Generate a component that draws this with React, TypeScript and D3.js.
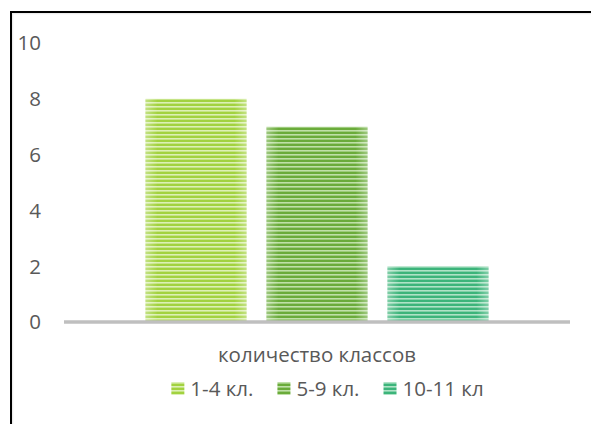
import { useRef, useEffect } from "react";
import * as d3 from "d3";

const category = "количество классов";
const seriesNames = ["1-4 кл.", "5-9 кл.", "10-11 кл"];
const seriesValues = [8, 7, 2];
const yTicks = [0, 2, 4, 6, 8, 10];

const barColors = ["#a2d23f", "#6aab3a", "#3cb47a"];
const stripeColors = ["#dcf0b5", "#bfe0a8", "#afe3c6"];

function App() {
  const ref = useRef<SVGSVGElement>(null);

  useEffect(() => {
    const svg = d3.select(ref.current);
    svg.selectAll("*").remove();

    const width = 591;
    const height = 424;
    const font = "'Open Sans', sans-serif";
    const fs = 20.5;

    // striped fills like the excel pattern
    const defs = svg.append("defs");
    barColors.forEach((c, i) => {
      const p = defs.append("pattern")
        .attr("id", "stripe" + i)
        .attr("patternUnits", "userSpaceOnUse")
        .attr("width", 8)
        .attr("height", 4);
      p.append("rect").attr("width", 8).attr("height", 4).attr("fill", c);
      p.append("rect").attr("y", 2).attr("width", 8).attr("height", 1.6).attr("fill", stripeColors[i]);
    });
    const sheen = defs.append("linearGradient").attr("id", "sheen")
      .attr("x1", "0%").attr("x2", "100%").attr("y1", "0%").attr("y2", "0%");
    sheen.append("stop").attr("offset", "0%").attr("stop-color", "#fff").attr("stop-opacity", 0.35);
    sheen.append("stop").attr("offset", "12%").attr("stop-color", "#fff").attr("stop-opacity", 0);
    sheen.append("stop").attr("offset", "88%").attr("stop-color", "#fff").attr("stop-opacity", 0);
    sheen.append("stop").attr("offset", "100%").attr("stop-color", "#fff").attr("stop-opacity", 0.35);

    svg.append("rect").attr("width", width).attr("height", height).attr("fill", "#fff");

    // frame (only top and left edges are visible)
    svg.append("line").attr("x1", 11).attr("x2", width).attr("y1", 13.5).attr("y2", 13.5)
      .attr("stroke", "#ececec").attr("stroke-width", 1.5);
    svg.append("line").attr("x1", 12.5).attr("x2", 12.5).attr("y1", 12).attr("y2", height)
      .attr("stroke", "#ececec").attr("stroke-width", 1.5);
    svg.append("line").attr("x1", 10).attr("x2", width).attr("y1", 12).attr("y2", 12)
      .attr("stroke", "#000").attr("stroke-width", 2);
    svg.append("line").attr("x1", 11).attr("x2", 11).attr("y1", 11).attr("y2", height)
      .attr("stroke", "#000").attr("stroke-width", 2);

    const x0 = d3.scaleBand().domain([category]).range([64, 570]).paddingInner(0).paddingOuter(0.2376);
    const x1 = d3.scaleBand().domain(seriesNames).range([0, x0.bandwidth()]).paddingInner(0.165).paddingOuter(0);
    const y = d3.scaleLinear().domain([0, 10]).range([322, 43]);

    // y labels
    svg.append("g")
      .selectAll("text")
      .data(yTicks)
      .enter().append("text")
      .attr("x", 41)
      .attr("y", (d) => y(d))
      .attr("dy", "0.36em")
      .attr("text-anchor", "end")
      .attr("font-family", font)
      .attr("font-size", fs)
      .attr("fill", "#595959")
      .text((d) => d);

    // bars
    const g = svg.append("g").attr("transform", "translate(" + x0(category) + ",0)");
    seriesNames.forEach((s, i) => {
      const bx = x1(s) as number;
      const by = y(seriesValues[i]);
      const bh = y(0) - y(seriesValues[i]);
      g.append("rect").attr("x", bx).attr("y", by).attr("width", x1.bandwidth()).attr("height", bh)
        .attr("fill", "url(#stripe" + i + ")");
      g.append("rect").attr("x", bx).attr("y", by).attr("width", x1.bandwidth()).attr("height", bh)
        .attr("fill", "url(#sheen)");
    });

    // baseline
    svg.append("line").attr("x1", 64).attr("x2", 570).attr("y1", y(0)).attr("y2", y(0))
      .attr("stroke", "#bfbfbf").attr("stroke-width", 3.5);

    // category label
    svg.append("text")
      .attr("x", (x0(category) as number) + x0.bandwidth() / 2)
      .attr("y", 362)
      .attr("text-anchor", "middle")
      .attr("font-family", font)
      .attr("font-size", fs)
      .attr("fill", "#595959")
      .text(category);

    // legend
    const lg = svg.append("g");
    const items = seriesNames.map((s, i) => {
      const it = lg.append("g");
      it.append("rect").attr("x", 0).attr("y", 382).attr("width", 13).attr("height", 13)
        .attr("fill", "url(#stripe" + i + ")");
      const t = it.append("text").attr("x", 19).attr("y", 396)
        .attr("font-family", font)
        .attr("font-size", fs)
        .attr("fill", "#595959")
        .text(s);
      const w = 19 + (t.node() as SVGTextElement).getComputedTextLength();
      return { it, w };
    });
    const gap = 24;
    const total = d3.sum(items, (d) => d.w) + gap * (items.length - 1);
    let cx = 327.5 - total / 2;
    items.forEach((d) => {
      d.it.attr("transform", "translate(" + cx + ",0)");
      cx += d.w + gap;
    });
  }, []);

  return (
    <svg
      ref={ref}
      width="591"
      height="424"
      style={{ position: "absolute", left: 0, top: 0 }}
    />
  );
}

export default App;
